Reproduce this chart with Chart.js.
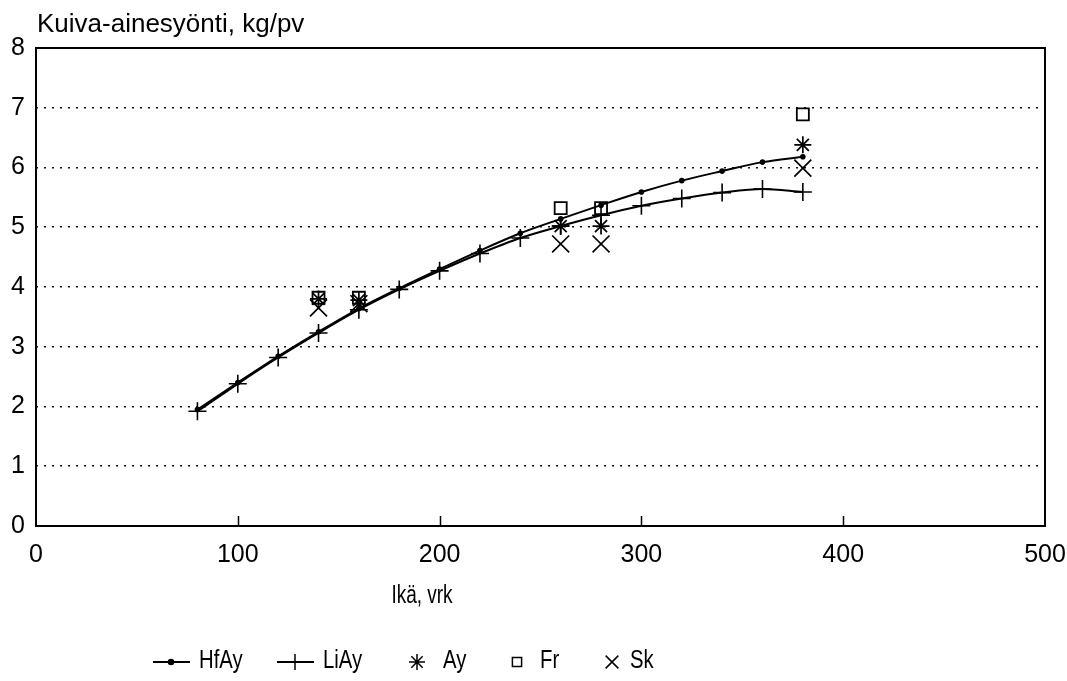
<!DOCTYPE html>
<html>
<head>
<meta charset="utf-8">
<title>Kuiva-ainesyönti</title>
<script src="https://cdn.jsdelivr.net/npm/chart.js"></script>
<style>
  html, body { margin: 0; padding: 0; background: #fff; }
  #wrap { width: 1067px; height: 681px; }
</style>
</head>
<body>
<div id="wrap"><canvas id="myChart" width="1067" height="681"></canvas></div>
<script>
// ages (vrk) for the two fitted curves
const ages = [80, 100, 120, 140, 160, 180, 200, 220, 240, 260, 280, 300, 320, 340, 360, 380];
const hfAy = [1.95, 2.40, 2.84, 3.25, 3.64, 3.98, 4.30, 4.61, 4.90, 5.14, 5.37, 5.59, 5.78, 5.94, 6.09, 6.18];
const liAy = [1.92, 2.38, 2.82, 3.23, 3.62, 3.96, 4.27, 4.56, 4.82, 5.02, 5.20, 5.36, 5.48, 5.58, 5.64, 5.59];

// measured groups
const sampleAges = [140, 160, 260, 280, 380];
const ay = [3.80, 3.78, 5.02, 5.02, 6.38];
const fr = [3.82, 3.82, 5.32, 5.32, 6.89];
const sk = [3.65, 3.72, 4.72, 4.72, 5.99];

const xTicks = [0, 100, 200, 300, 400, 500];
const yTicks = [0, 1, 2, 3, 4, 5, 6, 7, 8];
const yTitle = 'Kuiva-ainesyönti, kg/pv';
const xTitle = 'Ikä, vrk';

const FONT = '"Liberation Sans", Arial, Helvetica, sans-serif';

function pts(xs, ys) {
    return xs.map((v, i) => ({x: v, y: ys[i]}));
}

// frame, inward x ticks, titles and legend
const extras = {
    id: 'extras',
    beforeDatasetsDraw(chart) {
        const {ctx, chartArea: a, scales: {x}} = chart;
        ctx.save();
        ctx.strokeStyle = '#000';
        ctx.lineWidth = 2;
        ctx.strokeRect(a.left, a.top, a.right - a.left, a.bottom - a.top);
        ctx.beginPath();
        xTicks.forEach(v => {
            if (v > 0 && v < 500) {
                const px = Math.round(x.getPixelForValue(v)) + 0.5;
                ctx.moveTo(px, a.bottom);
                ctx.lineTo(px, a.bottom - 10);
            }
        });
        ctx.lineWidth = 1.5;
        ctx.stroke();
        ctx.restore();
    },
    afterDraw(chart) {
        const {ctx} = chart;
        ctx.save();
        ctx.fillStyle = '#000';
        ctx.textBaseline = 'alphabetic';
        ctx.font = '26px ' + FONT;
        ctx.fillText(yTitle, 37, 32);

        // narrow text helper
        const narrow = (txt, x0, y0, size, sx) => {
            ctx.save();
            ctx.font = size + 'px ' + FONT;
            ctx.translate(x0, y0);
            ctx.scale(sx, 1);
            ctx.fillText(txt, 0, 0);
            ctx.restore();
        };
        ctx.save();
        ctx.font = '25px ' + FONT;
        const w = ctx.measureText(xTitle).width * 0.76;
        ctx.restore();
        narrow(xTitle, 422 - w / 2, 603, 25, 0.76);

        // legend
        const ly = 662;
        const ds = chart.data.datasets;
        const items = [
            {lx0: 153, lx1: 190, mx: 171, style: 'circle', r: 2.5, fill: true, txt: 199},
            {lx0: 277, lx1: 314, mx: 295, style: 'cross', r: 8, fill: false, txt: 323},
            {mx: 417, style: 'star', r: 8, fill: false, txt: 443},
            {mx: 517, style: 'rect', r: 6.5, fill: false, txt: 540},
            {mx: 612, style: 'crossRot', r: 9, fill: false, txt: 630}
        ];
        items.forEach((it, i) => {
            ctx.strokeStyle = '#000';
            ctx.fillStyle = it.fill ? '#000' : 'rgba(0,0,0,0)';
            if (it.lx0 !== undefined) {
                ctx.lineWidth = 2;
                ctx.beginPath();
                ctx.moveTo(it.lx0, ly);
                ctx.lineTo(it.lx1, ly);
                ctx.stroke();
            }
            ctx.lineWidth = 1.5;
            Chart.helpers.drawPoint(ctx, {pointStyle: it.style, radius: it.r, borderWidth: 1.5, rotation: 0}, it.mx, ly);
            ctx.fillStyle = '#000';
            narrow(ds[i].label, it.txt, 668, 26, 0.78);
        });
        ctx.restore();
    }
};

const ctx = document.getElementById('myChart').getContext('2d');
const myChart = new Chart(ctx, {
    type: 'line',
    data: {
        datasets: [{
            label: 'HfAy',
            data: pts(ages, hfAy),
            borderColor: '#000',
            backgroundColor: '#000',
            borderWidth: 2,
            pointStyle: 'circle',
            pointRadius: 2.8,
            pointBorderWidth: 0,
            cubicInterpolationMode: 'monotone'
        }, {
            label: 'LiAy',
            data: pts(ages, liAy),
            borderColor: '#000',
            backgroundColor: '#000',
            borderWidth: 2,
            pointStyle: 'cross',
            pointRadius: 9,
            pointBorderWidth: 1.6,
            cubicInterpolationMode: 'monotone'
        }, {
            label: 'Ay',
            data: pts(sampleAges, ay),
            showLine: false,
            borderColor: '#000',
            pointStyle: 'star',
            pointRadius: 8.5,
            pointBorderWidth: 1.7
        }, {
            label: 'Fr',
            data: pts(sampleAges, fr),
            showLine: false,
            borderColor: '#000',
            backgroundColor: 'rgba(0,0,0,0)',
            pointStyle: 'rect',
            pointRadius: 8.5,
            pointBorderWidth: 1.8
        }, {
            label: 'Sk',
            data: pts(sampleAges, sk),
            showLine: false,
            borderColor: '#000',
            pointStyle: 'crossRot',
            pointRadius: 12,
            pointBorderWidth: 1.7
        }]
    },
    options: {
        responsive: false,
        animation: false,
        events: [],
        layout: {padding: {top: 48, right: 22, bottom: 95, left: 0}},
        plugins: {legend: {display: false}, tooltip: {enabled: false}},
        scales: {
            x: {
                type: 'linear',
                min: 0,
                max: 500,
                afterBuildTicks: s => { s.ticks = xTicks.map(v => ({value: v})); },
                afterFit: s => { s.height = 60; s.paddingLeft = 0; s.paddingRight = 0; },
                grid: {display: false, drawTicks: false},
                border: {display: false},
                ticks: {color: '#000', padding: 14, font: {family: FONT, size: 25}, maxRotation: 0}
            },
            y: {
                min: 0,
                max: 8,
                afterBuildTicks: s => { s.ticks = yTicks.map(v => ({value: v})); },
                afterFit: s => { s.width = 36; s.paddingTop = 0; s.paddingBottom = 0; },
                grid: {
                    drawTicks: false,
                    lineWidth: 1.6,
                    color: c => (c.tick && (c.tick.value === 0 || c.tick.value === 8)) ? 'rgba(0,0,0,0)' : '#111'
                },
                border: {display: false, dash: [2, 6]},
                ticks: {color: '#000', padding: 11, font: {family: FONT, size: 25}}
            }
        }
    },
    plugins: [extras]
});
</script>
</body>
</html>
